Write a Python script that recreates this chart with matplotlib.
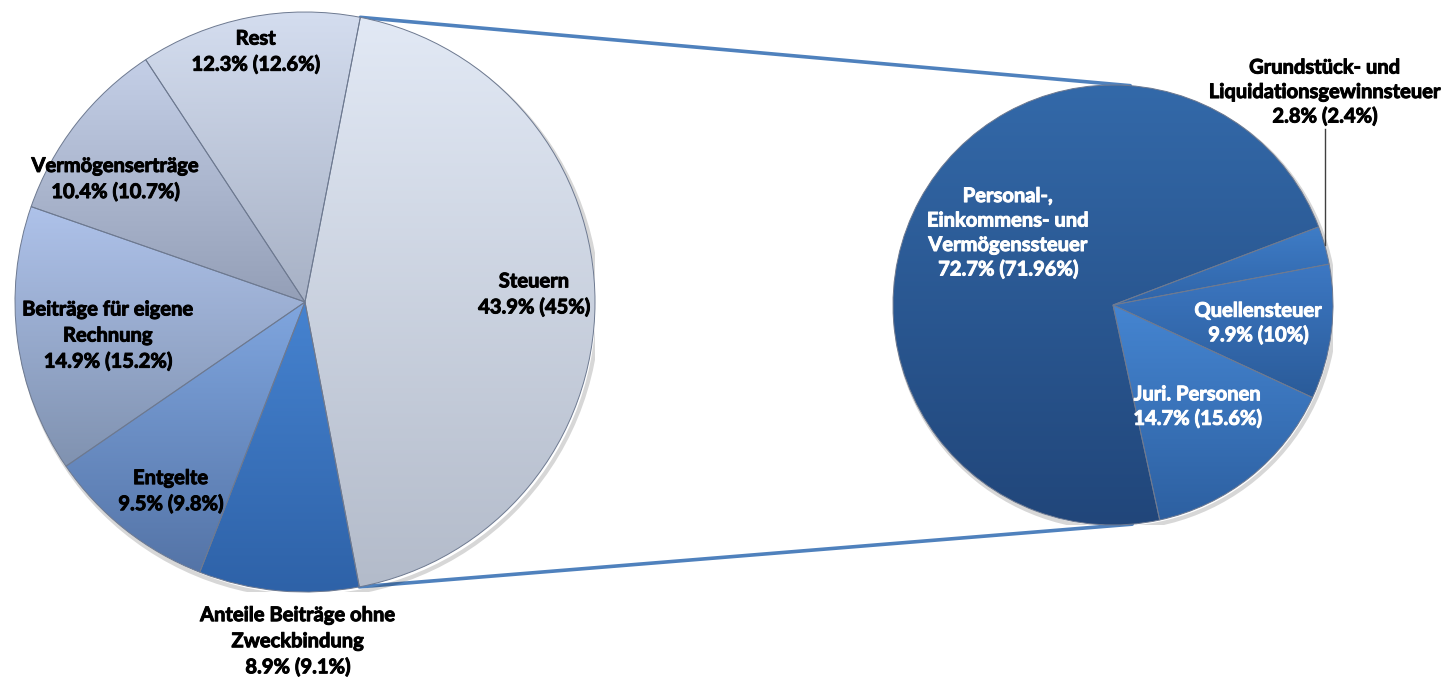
import numpy as np
import matplotlib
matplotlib.use("Agg")
import matplotlib.pyplot as plt
import matplotlib.patheffects as pe
from matplotlib.colors import LinearSegmentedColormap
from matplotlib.patches import ConnectionPatch

plt.rcParams['font.family'] = ['Lato', 'DejaVu Sans']

# Einnahmen (share 2010, share previous year in brackets)
main_labels = ["Steuern", "Anteile Beiträge ohne\nZweckbindung", "Entgelte",
               "Beiträge für eigene\nRechnung", "Vermögenserträge", "Rest"]
main_values = [43.9, 8.9, 9.5, 14.9, 10.4, 12.3]
main_prev = [45, 9.1, 9.8, 15.2, 10.7, 12.6]

# breakdown of Steuern
tax_labels = ["Grundstück- und\nLiquidationsgewinnsteuer", "Quellensteuer",
              "Juri. Personen", "Personal-,\nEinkommens- und\nVermögenssteuer"]
tax_values = [2.8, 9.9, 14.7, 72.7]
tax_prev = [2.4, 10, 15.6, 71.96]

# (top, bottom) gradient colours per wedge
main_colors = [("#e2e9f5", "#b3bbca"), ("#4683d0", "#2e62a8"),
               ("#80a6df", "#5474a7"), ("#aec2ea", "#8092b0"),
               ("#c4cfe7", "#949fb7"), ("#d4ddef", "#a7b1c5")]
tax_colors = [("#3f7dc7", "#2f64a8"), ("#3d78c3", "#2a5b99"),
              ("#4585d1", "#2d60a1"), ("#3369a9", "#21467a")]

# label placement: (radius factor, angle nudge in degrees)
main_pos = [(0.79, 2), (1.17, 4), (0.80, 3), (0.69, 2), (0.78, 5), (0.88, 0)]
tax_pos = [None, (0.665, 0), (0.60, 1), (0.58, -6)]

W, H = 1447, 680
fig = plt.figure(figsize=(W / 100, H / 100), dpi=100)
FS = 14.5


def pie_axes(cx, cy, r):
    return fig.add_axes([(cx - r) / W, (H - cy - r) / H, 2 * r / W, 2 * r / H])


def shade(ax, wedge, top, bottom):
    x0, y0, x1, y1 = wedge.get_path().get_extents().extents
    cmap = LinearSegmentedColormap.from_list("g", [bottom, top])
    grad = np.linspace(1, 0, 256).reshape(-1, 1)
    im = ax.imshow(grad, extent=[x0, x1, y0, y1], origin="upper", cmap=cmap,
                   vmin=0, vmax=1, aspect="auto", interpolation="bilinear", zorder=1)
    im.set_clip_path(wedge)


def fmt(v, p):
    return f"{v:g}% ({p:g}%)"


def label(ax, x, y, text, color, spacing):
    ax.text(x, y, text, ha="center", va="center", fontsize=FS, fontweight="bold",
            color=color, linespacing=spacing, zorder=5,
            path_effects=[pe.withStroke(linewidth=0.7, foreground=color)])


def draw_pie(ax, values, colors, start):
    wedges, _ = ax.pie(values, startangle=start, counterclock=False, radius=1,
                       wedgeprops=dict(facecolor="none", edgecolor="#6d7990",
                                       linewidth=0.7, zorder=2))
    for w, (top, bottom) in zip(wedges, colors):
        shade(ax, w, top, bottom)
    # soft rim shadow
    ax.add_patch(plt.Circle((0.01, -0.015), 1.0, facecolor="none",
                            edgecolor="#00000028", linewidth=3, zorder=0))
    ax.set_xlim(-1, 1)
    ax.set_ylim(-1, 1)
    ax.set_aspect("auto")
    ax.axis("off")
    return wedges


def mid_angle(w):
    return np.deg2rad((w.theta1 + w.theta2) / 2)


ax1 = pie_axes(305, 302, 290)
w1 = draw_pie(ax1, main_values, main_colors, 79.0)
for w, lab, v, p, (rf, nudge) in zip(w1, main_labels, main_values, main_prev, main_pos):
    a = mid_angle(w) + np.deg2rad(nudge)
    label(ax1, rf * np.cos(a), rf * np.sin(a), lab + "\n" + fmt(v, p), "black", 1.38)

ax2 = pie_axes(1113, 305, 220)
w2 = draw_pie(ax2, tax_values, tax_colors, 20.8)
for w, lab, v, p, pos in zip(w2, tax_labels, tax_values, tax_prev, tax_pos):
    text = lab + "\n" + fmt(v, p)
    if pos is None:
        # small slice: label above the pie with a leader line
        a = mid_angle(w)
        ax2.plot([np.cos(a), np.cos(a)], [np.sin(a), 0.80], color="#404040",
                 linewidth=1, zorder=4, clip_on=False)
        label(ax2, np.cos(a), 0.968, text, "black", 1.28)
        continue
    rf, nudge = pos
    a = mid_angle(w) + np.deg2rad(nudge)
    label(ax2, rf * np.cos(a), rf * np.sin(a), text, "white", 1.28)

# connector lines from the Steuern wedge to the breakdown pie
steuern = w1[0]
for t1, t2 in [(steuern.theta2, 85.5), (steuern.theta1, -85.0)]:
    a1, a2 = np.deg2rad(t1), np.deg2rad(t2)
    con = ConnectionPatch(xyA=(np.cos(a1), np.sin(a1)), coordsA=ax1.transData,
                          xyB=(np.cos(a2), np.sin(a2)), coordsB=ax2.transData,
                          color="#4f81bd", linewidth=2.6, zorder=0)
    fig.add_artist(con)

fig.savefig("out.png", dpi=100, facecolor="white")
